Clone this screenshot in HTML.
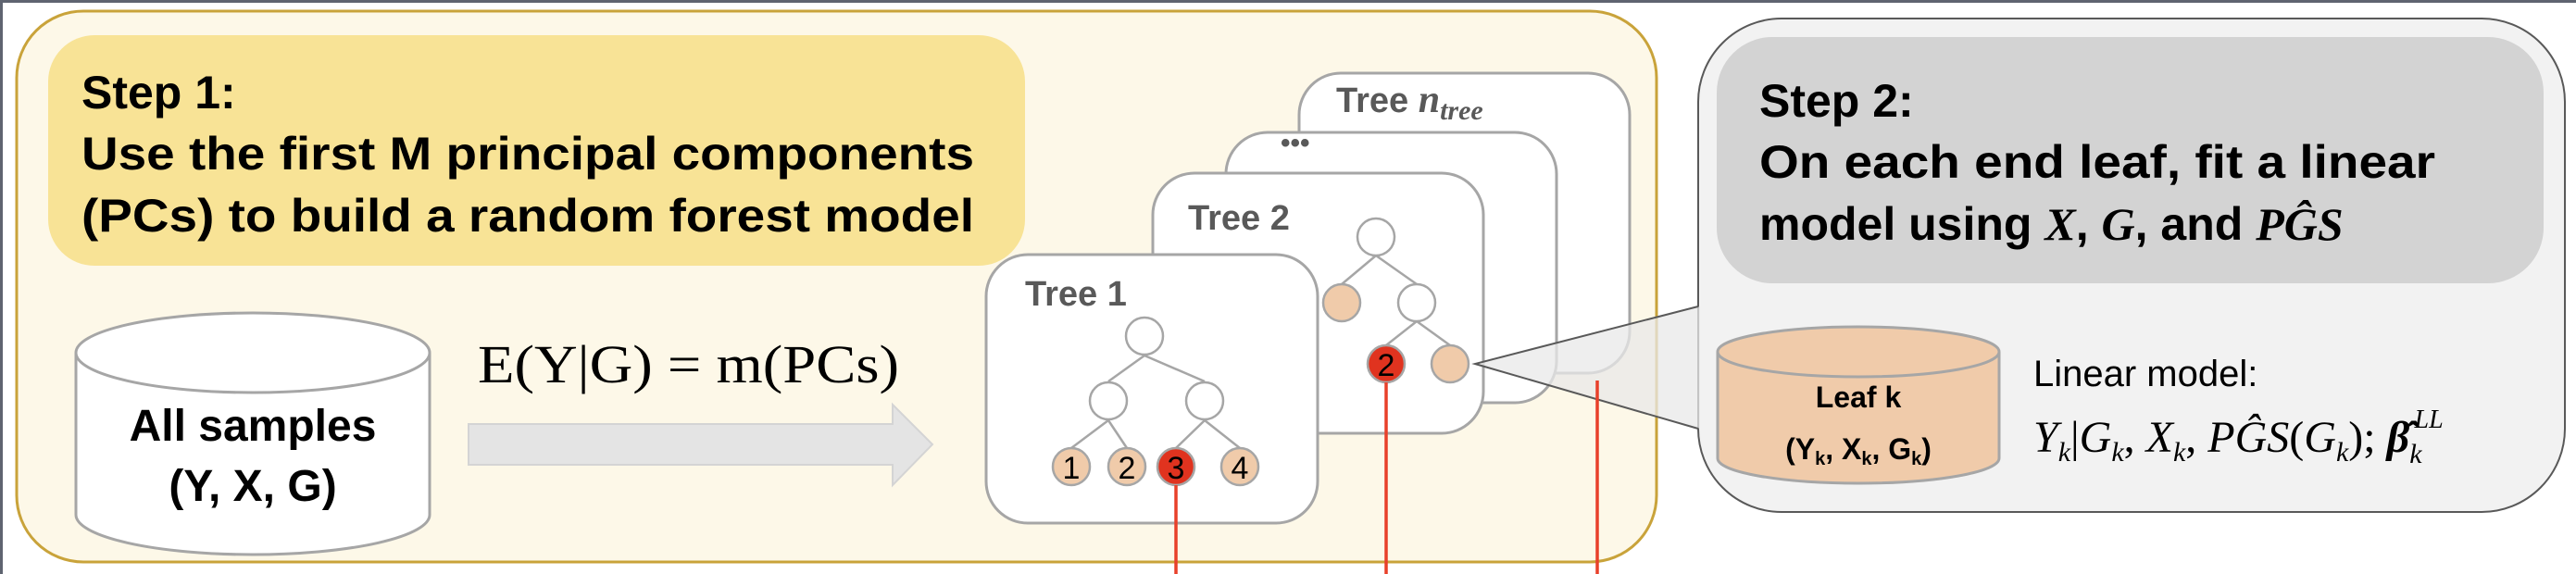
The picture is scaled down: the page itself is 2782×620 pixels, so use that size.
<!DOCTYPE html>
<html><head><meta charset="utf-8"><style>
html,body{margin:0;padding:0;background:#fff;}
svg{display:block;}
</style></head><body>
<svg width="2782" height="620" viewBox="0 0 2782 620" xmlns="http://www.w3.org/2000/svg" font-family="Liberation Sans, sans-serif">
<rect x="0" y="0" width="2782" height="3" fill="#5f6470"/>
<rect x="0" y="0" width="3" height="620" fill="#5f6470"/>
<rect x="18" y="12" width="1771" height="595" rx="72" fill="#fdf8e8" stroke="#c9a33a" stroke-width="3"/>
<rect x="52" y="38" width="1055" height="249" rx="50" fill="#f8e396"/>
<g font-weight="bold" font-size="50" fill="#000">
<text x="88" y="117">Step 1:</text>
<text x="88" y="183" textLength="964" lengthAdjust="spacingAndGlyphs">Use the first M principal components</text>
<text x="88" y="250" textLength="964" lengthAdjust="spacingAndGlyphs">(PCs) to build a random forest model</text>
</g>
<path d="M82 381 L82 556 A191 43 0 0 0 464 556 L464 381" fill="#fff" stroke="#a6a6a6" stroke-width="3"/>
<ellipse cx="273" cy="381" rx="191" ry="43" fill="#fff" stroke="#a6a6a6" stroke-width="3"/>
<g font-weight="bold" font-size="48" text-anchor="middle">
<text x="273" y="476">All samples</text>
<text x="273" y="541">(Y, X, G)</text>
</g>
<text x="516" y="413" font-family="Liberation Serif, serif" font-size="58" textLength="455" lengthAdjust="spacingAndGlyphs">E(Y|G) = m(PCs)</text>
<path d="M506 458 L964 458 L964 437 L1007 480 L964 524 L964 502 L506 502 Z" fill="#e4e4e4" stroke="#d4d4d4" stroke-width="2"/>
<g stroke="#a6a6a6" stroke-width="3" fill="#fff">
<rect x="1403" y="79" width="357" height="324" rx="45"/>
<rect x="1324" y="143" width="357" height="292" rx="45"/>
<rect x="1245" y="187" width="357" height="281" rx="45"/>
</g>
<g font-weight="bold" font-size="38" fill="#595959">
<text x="1443" y="121">Tree <tspan font-family="Liberation Serif, serif" font-style="italic" font-size="42">n</tspan><tspan font-family="Liberation Serif, serif" font-style="italic" font-size="30" dy="8">tree</tspan></text>
<text x="1383" y="164" font-size="30">•••</text>
<text x="1283" y="248">Tree 2</text>
</g>
<g stroke="#a6a6a6" stroke-width="2.5">
<line x1="1486" y1="276" x2="1449" y2="307"/><line x1="1486" y1="276" x2="1530" y2="307"/>
<line x1="1530" y1="347" x2="1497" y2="373"/><line x1="1530" y1="347" x2="1566" y2="373"/>
<circle cx="1486" cy="256" r="20" fill="#fff"/>
<circle cx="1449" cy="327" r="20" fill="#f0cbaa"/>
<circle cx="1530" cy="327" r="20" fill="#fff"/>
<circle cx="1497" cy="393" r="20" fill="#e0331f"/>
<circle cx="1566" cy="393" r="20" fill="#f0cbaa"/>
</g>
<text x="1497" y="406" font-size="34" text-anchor="middle">2</text>
<rect x="1065" y="275" width="358" height="290" rx="45" fill="#fff" stroke="#a6a6a6" stroke-width="3"/>
<text x="1107" y="330" font-weight="bold" font-size="38" fill="#595959">Tree 1</text>
<g stroke="#a6a6a6" stroke-width="2.5">
<line x1="1236" y1="384" x2="1197" y2="412"/><line x1="1236" y1="384" x2="1301" y2="412"/>
<line x1="1197" y1="454" x2="1157" y2="484"/><line x1="1197" y1="454" x2="1217" y2="484"/>
<line x1="1301" y1="454" x2="1270" y2="484"/><line x1="1301" y1="454" x2="1339" y2="484"/>
<circle cx="1236" cy="363" r="20" fill="#fff"/>
<circle cx="1197" cy="433" r="20" fill="#fff"/>
<circle cx="1301" cy="433" r="20" fill="#fff"/>
<circle cx="1157" cy="504" r="20" fill="#f0cbaa"/>
<circle cx="1217" cy="504" r="20" fill="#f0cbaa"/>
<circle cx="1270" cy="504" r="20" fill="#e0331f"/>
<circle cx="1339" cy="504" r="20" fill="#f0cbaa"/>
</g>
<g font-size="34" text-anchor="middle">
<text x="1157" y="517">1</text><text x="1217" y="517">2</text><text x="1270" y="517">3</text><text x="1339" y="517">4</text>
</g>
<rect x="1834" y="20" width="936" height="533" rx="90" fill="#f2f2f2" stroke="#595959" stroke-width="2"/>
<polygon points="1593,393 1836,331 1836,463" fill="#e8e8e8" fill-opacity="0.75"/>
<polyline points="1834,331 1593,393 1834,463" fill="none" stroke="#595959" stroke-width="2"/>
<line x1="1270" y1="524" x2="1270" y2="620" stroke="#e8402a" stroke-width="3.5"/>
<line x1="1497" y1="413" x2="1497" y2="620" stroke="#e8402a" stroke-width="3.5"/>
<line x1="1725" y1="411" x2="1725" y2="620" stroke="#e8402a" stroke-width="3.5"/>
<rect x="1854" y="40" width="893" height="266" rx="60" fill="#d3d3d3"/>
<g font-weight="bold" font-size="50">
<text x="1900" y="126">Step 2:</text>
<text x="1900" y="192" textLength="730" lengthAdjust="spacingAndGlyphs">On each end leaf, fit a linear</text>
<text x="1900" y="259">model using <tspan font-family="Liberation Serif, serif" font-style="italic">X</tspan>, <tspan font-family="Liberation Serif, serif" font-style="italic">G</tspan>, and <tspan font-family="Liberation Serif, serif" font-style="italic">PĜS</tspan></text>
</g>
<path d="M1855 380 L1855 495 A152 27 0 0 0 2159 495 L2159 380" fill="#f0cbaa" stroke="#a6a6a6" stroke-width="3"/>
<ellipse cx="2007" cy="380" rx="152" ry="27" fill="#f0cbaa" stroke="#a6a6a6" stroke-width="3"/>
<g font-weight="bold" font-size="32" text-anchor="middle">
<text x="2007" y="440">Leaf k</text>
<text x="2007" y="496">(Y<tspan font-size="20" dy="6">k</tspan><tspan dy="-6">, X</tspan><tspan font-size="20" dy="6">k</tspan><tspan dy="-6">, G</tspan><tspan font-size="20" dy="6">k</tspan><tspan dy="-6">)</tspan></text>
</g>
<text x="2196" y="417" font-size="40">Linear model:</text>
<text x="2196" y="488" font-family="Liberation Serif, serif" font-style="italic" font-size="48">Y<tspan font-size="30" dy="10">k</tspan><tspan dy="-10" font-style="normal">|</tspan>G<tspan font-size="30" dy="10">k</tspan><tspan dy="-10" font-style="normal">, </tspan>X<tspan font-size="30" dy="10">k</tspan><tspan dy="-10" font-style="normal">, </tspan>PĜS<tspan font-style="normal">(</tspan>G<tspan font-size="30" dy="10">k</tspan><tspan dy="-10" font-style="normal">); </tspan><tspan font-weight="bold">β̂</tspan><tspan font-size="30" dy="12">k</tspan><tspan font-size="28" dx="-8" dy="-38">LL</tspan></text>
</svg>
</body></html>
